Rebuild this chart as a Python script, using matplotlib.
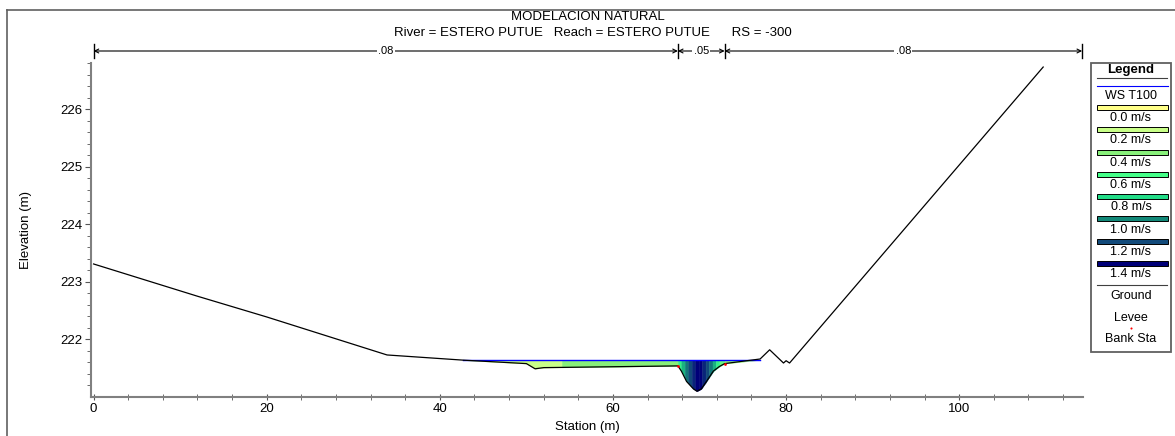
import numpy as np
import matplotlib.pyplot as plt
from matplotlib.colors import LinearSegmentedColormap
from matplotlib.lines import Line2D
from matplotlib.patches import Rectangle
import matplotlib.transforms as mtransforms

plt.rcParams['font.family'] = ['Liberation Sans', 'DejaVu Sans']

W, H = 1175, 436

# ground profile (station m, elevation m)
ground_sta = [0, 12, 20, 33.9, 42.7, 50.0, 51.0, 52.0, 67.5, 67.9, 68.5, 69.3, 69.7,
              70.2, 70.8, 71.6, 72.3, 72.9, 77.0, 78.1, 79.7, 80.0, 80.4, 109.7]
ground_elev = [223.31, 222.75, 222.39, 221.73, 221.64, 221.58, 221.49, 221.51, 221.54,
               221.45, 221.27, 221.14, 221.10, 221.14, 221.27, 221.45, 221.53, 221.58,
               221.66, 221.82, 221.59, 221.63, 221.59, 226.73]

ws_elev = 221.645
ws_left, ws_right = 42.7, 77.0
bank_sta = [67.5, 72.9]

# velocity slices across the wetted section
slice_bounds = [42.7, 54.1, 67.5, 67.9, 68.3, 68.7, 69.1, 69.5, 69.9, 70.3, 70.7,
                71.1, 71.5, 71.9, 72.3, 72.9, 77.0]
slice_vel = [0.2, 0.4, 0.7, 0.9, 1.05, 1.2, 1.3, 1.4, 1.4, 1.3, 1.2, 1.05,
             0.9, 0.7, 0.5, 0.35]

# Manning's n regions
n_bounds = [0, 67.5, 72.9, 114.2]
n_values = ['.08', '.05', '.08']

legend_vel = [0.0, 0.2, 0.4, 0.6, 0.8, 1.0, 1.2, 1.4]
legend_colors = ['#ffff88', '#c8ff88', '#88f07a', '#44ff88', '#22dd88',
                 '#128878', '#124a7a', '#000078']

vel_cmap = LinearSegmentedColormap.from_list(
    'vel', list(zip(np.array(legend_vel) / 1.4, legend_colors)))


def px(x, y):
    return x / W, 1 - y / H


fig = plt.figure(figsize=(W / 100, H / 100), dpi=100)
ax = fig.add_axes([91 / W, 39 / H, (1083 - 91) / W, (397 - 63) / H])

# coloured velocity fill
gs = np.array(ground_sta)
ge = np.array(ground_elev)
for a, b, v in zip(slice_bounds[:-1], slice_bounds[1:], slice_vel):
    xs = np.concatenate([[a], gs[(gs > a) & (gs < b)], [b]])
    ys = np.minimum(np.interp(xs, gs, ge), ws_elev)
    ax.fill_between(xs, ys, ws_elev, color=vel_cmap(v / 1.4), lw=0.3,
                    edgecolor=vel_cmap(v / 1.4))

ax.plot([ws_left, ws_right], [ws_elev, ws_elev], color='#0000ff', lw=1.0)
ax.plot(ground_sta, ground_elev, color='black', lw=0.9)
ax.plot(bank_sta, np.interp(bank_sta, gs, ge), 'o', color='red', ms=2, mec='none')

ax.set_xlim(-0.3, 114.3)
ax.set_ylim(221.0, 226.73)
ax.set_xticks([0, 20, 40, 60, 80, 100])
ax.set_xticks(np.arange(0, 114, 4), minor=True)
ax.set_yticks([222, 223, 224, 225, 226])
ax.set_yticks(np.arange(221.2, 226.8, 0.2), minor=True)
for s in ['top', 'right']:
    ax.spines[s].set_visible(False)
for s in ['left', 'bottom']:
    ax.spines[s].set_color('#808080')
    ax.spines[s].set_linewidth(1.5)
ax.tick_params(axis='x', which='both', direction='inout', colors='#555555',
               labelcolor='black', labelsize=9.5, length=5, pad=2)
ax.tick_params(axis='x', which='minor', length=4)
ax.tick_params(axis='y', which='both', direction='out', colors='#555555',
               labelcolor='black', labelsize=9.5, length=4, pad=2)
ax.tick_params(axis='y', which='minor', length=3)
fig.text(*px(587, 427), 'Station (m)', fontsize=9.5, ha='center', va='center')
fig.text(*px(26, 230), 'Elevation (m)', rotation=90, fontsize=9.5, ha='center', va='center')

# titles
fig.text(*px(588, 17), 'MODELACION NATURAL', fontsize=9.5, ha='center', va='center')
fig.text(*px(593, 33), 'River = ESTERO PUTUE   Reach = ESTERO PUTUE      RS = -300',
         fontsize=9.5, ha='center', va='center')

# Manning's n bar above the plot
trans = mtransforms.blended_transform_factory(ax.transData, fig.transFigure)
y_n = px(0, 51)[1]
bar_h = 7 / H
for xb in n_bounds:
    ax.add_line(Line2D([xb, xb], [y_n - bar_h, y_n + bar_h], transform=trans,
                       color='black', lw=1, clip_on=False))
for a, b, n in zip(n_bounds[:-1], n_bounds[1:], n_values):
    ax.annotate('', xy=(a, y_n), xytext=(b, y_n), xycoords=trans, textcoords=trans,
                arrowprops=dict(arrowstyle='<->', color='black', lw=0.8,
                                shrinkA=0, shrinkB=0, mutation_scale=7),
                annotation_clip=False)
    ax.text((a + b) / 2, y_n, n, transform=trans, fontsize=8, ha='center',
            va='center', bbox=dict(facecolor='white', edgecolor='none', pad=1))

# outer frame
fig.add_artist(Line2D([7 / W, 7 / W], [0, 1 - 10 / H], transform=fig.transFigure,
                      color='#606060', lw=1.2))
fig.add_artist(Line2D([7 / W, 1], [1 - 10 / H, 1 - 10 / H], transform=fig.transFigure,
                      color='#606060', lw=1.2))

# legend panel
lx0, lx1, ly0, ly1 = 1091, 1171, 63, 352
fig.add_artist(Rectangle(px(lx0, ly1), (lx1 - lx0) / W, (ly1 - ly0) / H,
                         transform=fig.transFigure, facecolor='white',
                         edgecolor='#606060', lw=1.3))
cx = (lx0 + lx1) / 2
fig.text(*px(cx, 70), 'Legend', fontsize=9.5, fontweight='bold', ha='center', va='center')
for yy in [78, 285]:
    fig.add_artist(Line2D([(lx0 + 6) / W, (lx1 - 4) / W], [1 - yy / H] * 2,
                          transform=fig.transFigure, color='#404040', lw=0.8))
fig.add_artist(Line2D([1097 / W, 1168 / W], [1 - 86 / H] * 2,
                      transform=fig.transFigure, color='#0000ff', lw=0.8))
fig.text(*px(cx, 96), 'WS T100', fontsize=9, ha='center', va='center')
for i, (v, c) in enumerate(zip(legend_vel, legend_colors)):
    yt = 118 + i * 22.3
    fig.add_artist(Rectangle(px(1097, yt - 8), 71 / W, 5 / H, transform=fig.transFigure,
                             facecolor=c, edgecolor='black', lw=0.7))
    fig.text(*px(cx, yt), f'{v:.1f} m/s', fontsize=9, ha='center', va='center')
fig.text(*px(cx, 296), 'Ground', fontsize=9, ha='center', va='center')
fig.text(*px(cx, 318), 'Levee', fontsize=9, ha='center', va='center')
fig.add_artist(Line2D([cx / W], [1 - 328 / H], marker='o', ms=1.5, color='red',
                      mec='none', transform=fig.transFigure))
fig.text(*px(cx, 339), 'Bank Sta', fontsize=9, ha='center', va='center')

fig.savefig('out.png', dpi=100)
